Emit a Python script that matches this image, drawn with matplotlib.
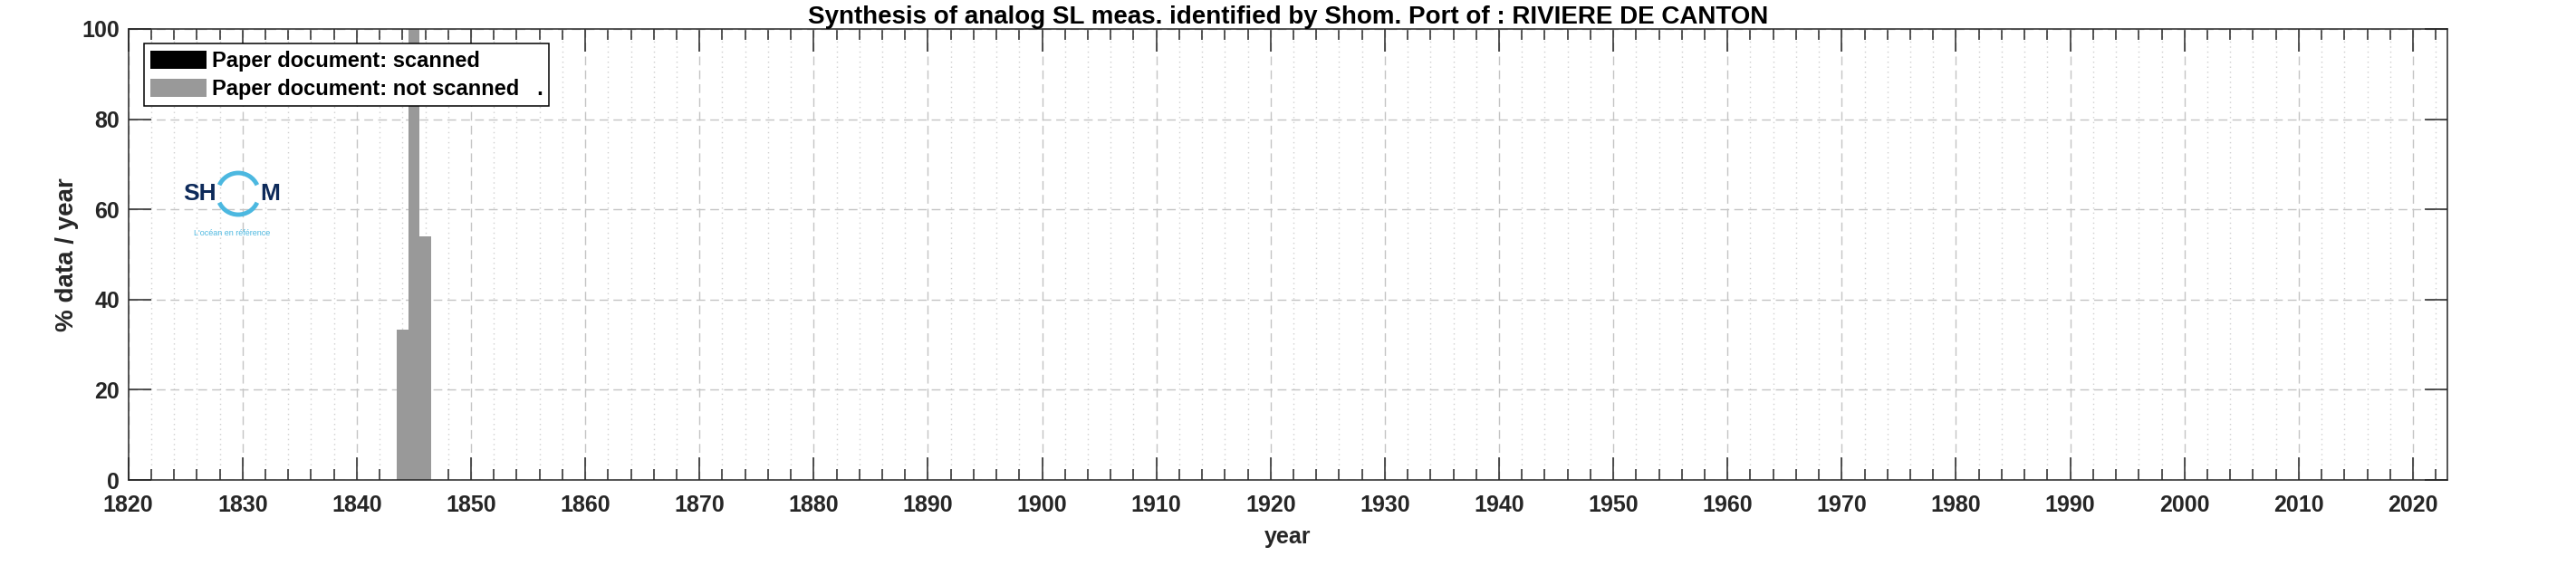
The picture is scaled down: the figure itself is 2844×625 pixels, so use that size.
import matplotlib
matplotlib.use("Agg")
import matplotlib.pyplot as plt
from matplotlib.patches import Arc
from matplotlib.ticker import MultipleLocator

# values
years = [1844, 1845, 1846]
scanned = [0, 0, 0]
not_scanned = [33.3, 100, 54]
port = "RIVIERE DE CANTON"

plt.rcParams["font.family"] = ["Liberation Sans", "DejaVu Sans"]
plt.rcParams["font.weight"] = "bold"

TXT = "#262626"
GRAY = "#999999"
W, H = 2844, 625

fig = plt.figure(figsize=(W / 100, H / 100), dpi=100)
ax = fig.add_axes([0.0498, 0.152, 0.9002, 0.797])

ax.bar(years, scanned, width=1.0, color="black", label="Paper document: scanned", zorder=2)
ax.bar(years, not_scanned, width=1.0, bottom=scanned, color=GRAY,
       label="Paper document: not scanned   .", zorder=2)

ax.set_xlim(1820, 2023)
ax.set_ylim(0, 100)
ax.xaxis.set_major_locator(MultipleLocator(10))
ax.xaxis.set_minor_locator(MultipleLocator(2))
ax.yaxis.set_major_locator(MultipleLocator(20))

ax.grid(True, which="major", linestyle=(0, (7, 4)), color="#c4c4c4", linewidth=1.0, zorder=0)
ax.grid(True, which="minor", axis="x", linestyle=(0, (1, 3)), color="#d0d0d0", linewidth=1.0, zorder=0)
ax.set_axisbelow(True)

ax.tick_params(which="both", direction="in", top=True, right=True, colors=TXT,
               labelsize=18, width=1.1)
ax.tick_params(which="major", length=18)
ax.tick_params(which="minor", length=8.5)
ax.tick_params(axis="x", pad=11.5)
ax.tick_params(axis="y", pad=7)
for lab in ax.get_xticklabels() + ax.get_yticklabels():
    lab.set_fontweight("bold")
for s in ax.spines.values():
    s.set_color(TXT)
    s.set_linewidth(1.1)

ax.set_xlabel("year", fontsize=18, fontweight="bold", color=TXT, labelpad=8)
ax.set_ylabel("% data / year", fontsize=20, fontweight="bold", color=TXT, labelpad=2)
ax.set_title(f"Synthesis of analog SL meas. identified by Shom. Port of : {port}",
             fontsize=20, fontweight="bold", color="black", pad=3)

leg = ax.legend(loc="upper left", bbox_to_anchor=(17.6 / 2560, 1 - 16.6 / 498.3),
                fontsize=17, frameon=True, fancybox=False, framealpha=1, edgecolor="black",
                handlelength=2.6, handleheight=0.95, handletextpad=0.25, borderpad=0.3,
                labelspacing=0.35, borderaxespad=0)
leg.get_frame().set_linewidth(1.1)
for t in leg.get_texts():
    t.set_fontweight("bold")

# Shom logo drawn as text and arcs, in pixel-sized inset axes
lx, ly, lw, lh = 195, 175, 120, 95
logo = fig.add_axes([lx / W, 1 - (ly + lh) / H, lw / W, lh / H])
logo.set_xlim(0, lw)
logo.set_ylim(0, lh)
logo.axis("off")
NAVY = "#0d2a5a"
CYAN = "#4cb8e0"
cx, cy, r = 68, 56, 23
logo.add_patch(Arc((cx, cy), 2 * r, 2 * r, theta1=25, theta2=155, color=CYAN, lw=3.5))
logo.add_patch(Arc((cx, cy), 2 * r, 2 * r, theta1=205, theta2=335, color=CYAN, lw=3.5))
logo.text(44, cy, "SH", color=NAVY, fontsize=19, fontweight="bold", ha="right", va="center")
logo.text(92, cy, "M", color=NAVY, fontsize=19, fontweight="bold", ha="left", va="center")
logo.text(61, 12, "L'océan en référence", color=CYAN, fontsize=6.5, fontweight="normal",
          ha="center", va="center")

fig.savefig("out.png", dpi=100)
